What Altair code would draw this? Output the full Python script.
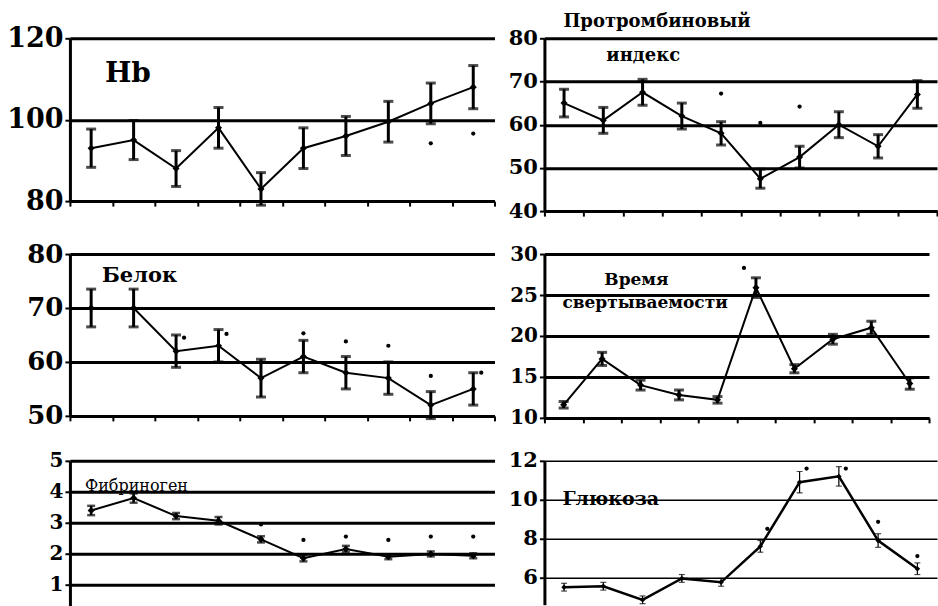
import altair as alt
import pandas as pd

periods = list(range(1, 11))

hb_mean = [93, 95, 88, 98, 83, 93, 96, 99.5, 104, 108]
hb_err = [4.7, 4.8, 4.4, 5.0, 4.0, 5.0, 4.8, 5.0, 5.0, 5.3]
hb_sig_x = [9, 10]
hb_sig_y = [94.2, 96.6]

pt_mean = [65, 61, 67.5, 62, 58, 47.5, 52.5, 60, 55, 67]
pt_err = [3.2, 3.0, 3.0, 3.0, 2.7, 2.2, 2.5, 3.0, 2.7, 3.2]
pt_sig_x = [5, 6, 7]
pt_sig_y = [67.2, 60.4, 64.2]

bl_mean = [70, 70, 62, 63, 57, 61, 58, 57, 52, 55]
bl_err = [3.5, 3.5, 3.0, 3.0, 3.5, 3.0, 3.0, 3.0, 2.5, 3.0]
bl_sig_x = [6, 7, 8, 9]
bl_sig_y = [65.3, 63.8, 63.0, 57.4]
bl_side_x = [3, 4, 10]          # dots drawn beside the error bar
bl_side_y = [64.5, 65.2, 58.0]

vr_mean = [11.6, 17.2, 14.0, 12.8, 12.2, 25.9, 16.0, 19.6, 21.0, 14.2]
vr_err = [0.4, 0.8, 0.6, 0.6, 0.4, 1.2, 0.5, 0.6, 0.8, 0.7]
vr_side_x = [6]
vr_side_y = [28.3]

fb_mean = [3.4, 3.8, 3.22, 3.07, 2.47, 1.86, 2.16, 1.91, 2.0, 1.94]
fb_err = [0.15, 0.15, 0.1, 0.12, 0.1, 0.1, 0.1, 0.08, 0.08, 0.08]
fb_sig_x = [5, 6, 7, 8, 9, 10]
fb_sig_y = [2.95, 2.45, 2.56, 2.45, 2.56, 2.56]

gl_mean = [5.5, 5.55, 4.85, 5.95, 5.75, 7.6, 10.9, 11.2, 7.9, 6.45]
gl_err = [0.2, 0.2, 0.2, 0.2, 0.2, 0.3, 0.55, 0.5, 0.35, 0.3]
gl_sig_x = [9, 10]
gl_sig_y = [8.86, 7.1]
gl_side_x = [6, 7, 8]
gl_side_y = [8.5, 11.6, 11.6]

SERIF = "DejaVu Serif, Liberation Serif, serif"


def panel(mean, err, dot_groups, domain, ticks, width, height, label_size,
          texts, grid_w=3.0, line_w=2.0, bar_w=3.0, cap=10, mark_size=50,
          xaxis=True):
    df = pd.DataFrame({
        "t": periods,
        "m": mean,
        "lo": [a - b for a, b in zip(mean, err)],
        "hi": [a + b for a, b in zip(mean, err)],
    })

    if xaxis:
        xax = alt.Axis(values=[0.5 + i for i in range(11)], labels=False,
                       grid=False, ticks=True, tickSize=5, tickWidth=2,
                       tickColor="black", domain=True, domainWidth=3,
                       domainColor="black", title=None)
    else:
        xax = None
    xs = alt.X("t:Q", scale=alt.Scale(domain=[0.5, 10.5], nice=False, zero=False),
               axis=xax)
    yax = alt.Axis(values=ticks, grid=True, gridColor="black", gridWidth=grid_w,
                   domain=True, domainColor="black", domainWidth=3,
                   tickColor="black", tickSize=5, tickWidth=2,
                   labelFont=SERIF, labelFontSize=label_size,
                   labelFontWeight="bold", labelColor="black", labelPadding=2,
                   title=None)
    ysc = alt.Scale(domain=domain, nice=False, zero=False)

    base = alt.Chart(df)
    line = base.mark_line(color="black", strokeWidth=line_w).encode(
        x=xs, y=alt.Y("m:Q", scale=ysc, axis=yax))
    bars = base.mark_rule(color="black", strokeWidth=bar_w).encode(
        x=xs, y=alt.Y("lo:Q", scale=ysc, axis=yax), y2="hi:Q")
    cap_lo = base.mark_tick(color="black", orient="horizontal", size=cap,
                            thickness=bar_w).encode(
        x=xs, y=alt.Y("lo:Q", scale=ysc, axis=yax))
    cap_hi = base.mark_tick(color="black", orient="horizontal", size=cap,
                            thickness=bar_w).encode(
        x=xs, y=alt.Y("hi:Q", scale=ysc, axis=yax))
    pts = base.mark_point(shape="diamond", filled=True, color="black",
                          size=mark_size, opacity=1).encode(
        x=xs, y=alt.Y("m:Q", scale=ysc, axis=yax))

    layers = [line, bars, cap_lo, cap_hi, pts]
    for gx, gy, off in dot_groups:
        sig = pd.DataFrame({"t": gx, "m": gy})
        layers.append(
            alt.Chart(sig).mark_circle(color="black", size=18, opacity=1,
                                       xOffset=off).encode(
                x=xs, y=alt.Y("m:Q", scale=ysc, axis=yax)))
    for txt, px, py, fs, fw in texts:
        layers.append(
            alt.Chart(pd.DataFrame({"label": [txt]})).mark_text(
                align="left", baseline="middle", font=SERIF, fontSize=fs,
                fontWeight=fw, color="black").encode(
                text="label:N", x=alt.value(px), y=alt.value(py)))
    return alt.layer(*layers).properties(width=width, height=height)


hb = panel(hb_mean, hb_err, [(hb_sig_x, hb_sig_y, 0)],
           [80, 120], [80, 100, 120],
           425, 163, 27, [("Hb", 35, 36, 28, "bold")])
bl = panel(bl_mean, bl_err, [(bl_sig_x, bl_sig_y, 0), (bl_side_x, bl_side_y, 8)],
           [50, 80], [50, 60, 70, 80],
           425, 162, 26, [("Белок", 32, 22, 21, "bold")])
fb = panel(fb_mean, fb_err, [(fb_sig_x, fb_sig_y, 0)],
           [0.3, 5], [1, 2, 3, 4, 5],
           425, 146, 20, [("Фибриноген", 15, 25, 16, "normal")],
           bar_w=2.5, cap=8, xaxis=False)

pt = panel(pt_mean, pt_err, [(pt_sig_x, pt_sig_y, 0)],
           [40, 80], [40, 50, 60, 70, 80],
           393, 173, 21, [("Протромбиновый", 19, -16, 18, "bold"),
                          ("индекс", 62, 18, 18, "bold")])
vr = panel(vr_mean, vr_err, [(vr_side_x, vr_side_y, -12)],
           [10, 30], [10, 15, 20, 25, 30],
           385, 164, 20, [("Время", 60, 26, 17, "bold"),
                          ("свертываемости", 18, 49, 17, "bold")])
gl = panel(gl_mean, gl_err, [(gl_sig_x, gl_sig_y, 0), (gl_side_x, gl_side_y, 7)],
           [4.6, 12], [6, 8, 10, 12],
           393, 144, 21, [("Глюкоза", 18, 38, 19, "bold")],
           grid_w=1.5, line_w=2.5, bar_w=1.2, cap=6, mark_size=30, xaxis=False)

chart = alt.ConcatChart(
    concat=[hb, pt, bl, vr, fb, gl],
    columns=2,
    spacing={"row": 43, "column": 50},
    bounds="flush",
    align="each",
).configure_view(
    stroke=None
).properties(
    padding={"left": 6, "top": 13, "right": 0, "bottom": 0},
    background="white",
)

chart.save("out.html", embed_options={"renderer": "svg", "actions": False})
